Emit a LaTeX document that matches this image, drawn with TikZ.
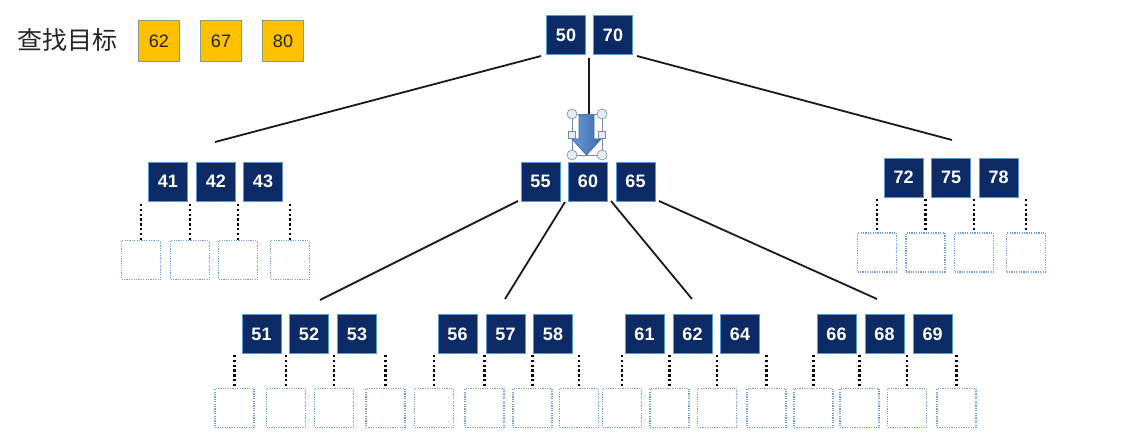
\documentclass[tikz,border=0pt]{standalone}
\usepackage{fontspec}
\setmainfont{Liberation Sans}
\newfontfamily\keyfont{Liberation Sans}[BoldFont={Liberation Sans Bold}]
\newfontfamily\cjkfont{Noto Sans CJK SC}
\definecolor{navy}{HTML}{0B2A66}
\definecolor{navyedge}{HTML}{5B9BD5}
\definecolor{leafedge}{HTML}{6FA3D8}
\definecolor{gold}{HTML}{FFC000}
\definecolor{goldedge}{HTML}{8A9A84}
\definecolor{arrowA}{HTML}{6A9AD8}
\definecolor{arrowB}{HTML}{3E6CAE}
\definecolor{handlefill}{HTML}{E6ECF4}
\definecolor{handleedge}{HTML}{7A8AA0}
\tikzset{
  keybox/.style={draw=navyedge, line width=0.8pt, fill=navy, minimum width=39pt, minimum height=39pt, inner sep=0pt, text=white, font=\keyfont\bfseries\fontsize{18}{18}\selectfont},
  leafbox/.style={draw=leafedge, dash pattern=on 1.2pt off 1.2pt, line width=1.2pt, minimum width=39pt, minimum height=39pt, inner sep=0pt},
  target/.style={draw=goldedge, line width=0.8pt, fill=gold, minimum width=41pt, minimum height=41pt, inner sep=0pt, text=black!85, font=\fontsize{18}{18}\selectfont},
  dotline/.style={line width=2.6pt, dash pattern=on 2.4pt off 2.4pt, black},
  edge/.style={line width=1.8pt, black!90},
  handle/.style={draw=handleedge, fill=handlefill, line width=0.6pt}
}
\begin{document}
\begin{tikzpicture}[x=1pt,y=-1pt]
\useasboundingbox (0,0) rectangle (1143,441);
% title and targets
\node[font=\cjkfont\fontsize{25}{25}\selectfont, text=black!85, anchor=west, inner sep=0pt] (title) at (17,40) {查找目标};
\node[target] (t62) at (159,41) {62};
\node[target] (t67) at (221,41) {67};
\node[target] (t80) at (283,41) {80};
% root
\node[keybox] (k50) at (566,35) {50};
\node[keybox] (k70) at (613,35) {70};
% level 2
\node[keybox] (k41) at (168,181.5) {41};
\node[keybox] (k42) at (216,181.5) {42};
\node[keybox] (k43) at (263,181.5) {43};
\node[keybox] (k55) at (540.5,181.5) {55};
\node[keybox] (k60) at (588,181.5) {60};
\node[keybox] (k65) at (635.5,181.5) {65};
\node[keybox] (k72) at (903.5,177.5) {72};
\node[keybox] (k75) at (951,177.5) {75};
\node[keybox] (k78) at (998.5,177.5) {78};
% level 3
\node[keybox] (k51) at (261.5,334) {51};
\node[keybox] (k52) at (309,334) {52};
\node[keybox] (k53) at (357,334) {53};
\node[keybox] (k56) at (457.5,334) {56};
\node[keybox] (k57) at (505.5,334) {57};
\node[keybox] (k58) at (553,334) {58};
\node[keybox] (k61) at (644.5,334) {61};
\node[keybox] (k62) at (692.5,334) {62};
\node[keybox] (k64) at (740,334) {64};
\node[keybox] (k66) at (836.5,334) {66};
\node[keybox] (k68) at (884.5,334) {68};
\node[keybox] (k69) at (932.5,334) {69};
% leaves with dotted links
\foreach \x [count=\i] in {141,190,238,290}{
  \node[leafbox] (la\i) at (\x,260) {};
  \coordinate (la\i t) at (\x,204);
  \draw[dotline] (la\i t) -- (la\i);
}
\foreach \x [count=\i] in {877,925.5,974,1026}{
  \node[leafbox] (lc\i) at (\x,252.5) {};
  \coordinate (lc\i t) at (\x,199);
  \draw[dotline] (lc\i t) -- (lc\i);
}
\foreach \g/\xa/\xb/\xc/\xd in {d/234.5/286/334/385.5, e/434/484.5/532.5/579, f/622/669.5/717/766.5, g/813.5/859.5/907/956.5}{
  \foreach \x [count=\i] in {\xa,\xb,\xc,\xd}{
    \node[leafbox] (l\g\i) at (\x,408) {};
    \coordinate (l\g\i t) at (\x,355);
    \draw[dotline] (l\g\i t) -- (l\g\i);
  }
}
% tree edges
\coordinate (r1) at (541,56);
\coordinate (r1e) at (215,142);
\coordinate (r2) at (589,58);
\coordinate (r2e) at (589,116);
\coordinate (r3) at (637,56);
\coordinate (r3e) at (952,140);
\draw[edge] (r1) -- (r1e);
\draw[edge] (r2) -- (r2e);
\draw[edge] (r3) -- (r3e);
\coordinate (m1) at (518,201);
\coordinate (m1e) at (320,300);
\coordinate (m2) at (565,202);
\coordinate (m2e) at (505,299);
\coordinate (m3) at (611,201);
\coordinate (m3e) at (692,299);
\coordinate (m4) at (659,201);
\coordinate (m4e) at (877,299);
\draw[edge] (m1) -- (m1e);
\draw[edge] (m2) -- (m2e);
\draw[edge] (m3) -- (m3e);
\draw[edge] (m4) -- (m4e);
% selected down arrow
\draw[draw=handleedge, line width=0.5pt] (572,114) rectangle (602,155);
\path[left color=arrowA, right color=arrowB, draw=arrowB, line width=0.8pt]
  (579,115) -- (594,115) -- (594,139) -- (601,139) -- (586.5,155) -- (572,139) -- (579,139) -- cycle;
\foreach \p in {(572,114),(602,114),(572,155),(602,155)}{
  \draw[handle] \p circle (5pt);
}
\foreach \p in {(572,134.5),(602,134.5)}{
  \draw[handle] \p ++(-3.5,-3.5) rectangle ++(7,7);
}
\end{tikzpicture}
\end{document}
